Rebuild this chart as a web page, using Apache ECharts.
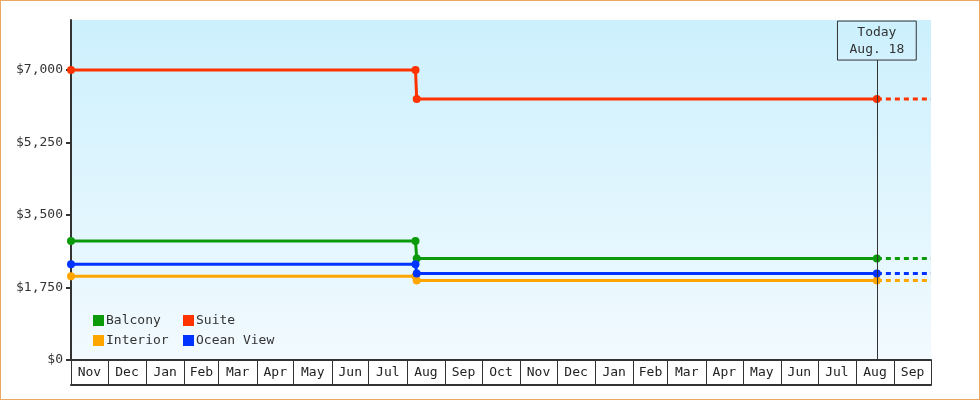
<!DOCTYPE html>
<html><head><meta charset="utf-8">
<script src="https://cdn.jsdelivr.net/npm/echarts@6/dist/echarts.min.js"></script>
<style>
html,body{margin:0;padding:0;background:#fff}
#wrap{position:relative;width:980px;height:400px}
#c{position:absolute;left:0;top:0;width:980px;height:400px}
#frame{position:absolute;left:0;top:0;width:980px;height:400px;box-sizing:border-box;border:1px solid #eaa862;pointer-events:none}
</style></head><body>
<div id="wrap"><div id="c"></div><div id="frame"></div></div>
<script>
// ---- data ----
const monthLabels = ['Nov','Dec','Jan','Feb','Mar','Apr','May','Jun','Jul','Aug','Sep','Oct',
                     'Nov','Dec','Jan','Feb','Mar','Apr','May','Jun','Jul','Aug','Sep'];
const axisStart = '2017-11-01';
const axisEnd = '2019-10-01';
const todayDate = '2019-08-18';
const todayLabel = ['Today', 'Aug. 18'];
const priceDates = ['2017-11-01', '2018-08-08', '2018-08-09', '2019-08-18'];
const balcony   = [2870, 2870, 2450, 2450];
const suite     = [7000, 7000, 6300, 6300];
const interior  = [2020, 2020, 1920, 1920];
const oceanView = [2310, 2310, 2090, 2090];
const yMax = 8207;
const yInterval = 1750;
const todayMarkTop = 7240;

// ---- helpers ----
const ts = s => new Date(s + 'T00:00:00').getTime();
const startD = new Date(axisStart + 'T00:00:00');
const monthStarts = [];
for (let i = 0; i <= monthLabels.length; i++) {
  monthStarts.push(new Date(startD.getFullYear(), startD.getMonth() + i, 1).getTime());
}
const monthMids = monthLabels.map((_, i) => (monthStarts[i] + monthStarts[i + 1]) / 2);

const names = ['Balcony', 'Suite', 'Interior', 'Ocean View'];
const values = [balcony, suite, interior, oceanView];
const colors = ['#0a9a0a', '#ff3300', '#ffa500', '#0033ff'];
const font = 'DejaVu Sans Mono';
const fs = 13;

const series = [];
names.forEach((n, k) => {
  const vals = values[k];
  const s = {
    name: n, type: 'line', z: 3,
    data: priceDates.map((d, i) => [ts(d), vals[i]]),
    symbol: 'circle', symbolSize: 8, showSymbol: true,
    itemStyle: { color: colors[k] },
    lineStyle: { width: 3, color: colors[k] },
    silent: true, animation: false
  };
  if (k === 1) {
    s.markLine = {
      silent: true, symbol: 'none', animation: false,
      lineStyle: { color: '#333', width: 1, type: 'solid' },
      label: {
        show: true, position: 'end', distance: 0,
        formatter: todayLabel.join('\n'),
        color: '#333', fontFamily: font, fontSize: fs, lineHeight: 17,
        borderColor: '#333', borderWidth: 1, padding: [3, 12, 2, 12]
      },
      data: [[{ coord: [ts(todayDate), 0] }, { coord: [ts(todayDate), todayMarkTop] }]]
    };
  }
  series.push(s);
  series.push({
    name: n, type: 'line', z: 2,
    data: [[ts(todayDate), vals[vals.length - 1]], [ts(axisEnd), vals[vals.length - 1]]],
    symbol: 'none',
    lineStyle: { width: 3, color: colors[k], type: [5, 4] },
    itemStyle: { color: colors[k] },
    silent: true, animation: false
  });
});

const legendText = { fontFamily: font, fontSize: fs, color: '#333', padding: [0, 0, 0, -3] };
const chart = echarts.init(document.getElementById('c'));
chart.setOption({
  animation: false,
  grid: {
    left: 71, right: 49, top: 20, bottom: 40, show: true, borderWidth: 0,
    backgroundColor: {
      type: 'linear', x: 0, y: 0, x2: 0, y2: 1,
      colorStops: [{ offset: 0, color: '#ccf0fd' }, { offset: 1, color: '#f2faff' }]
    }
  },
  legend: [
    {
      data: ['Balcony', 'Interior'], orient: 'vertical', left: 93, top: 314,
      itemWidth: 11, itemHeight: 11, itemGap: 7, icon: 'rect', padding: 0,
      selectedMode: false, textStyle: legendText
    },
    {
      data: ['Suite', 'Ocean View'], orient: 'vertical', left: 183, top: 314,
      itemWidth: 11, itemHeight: 11, itemGap: 7, icon: 'rect', padding: 0,
      selectedMode: false, textStyle: legendText
    }
  ],
  xAxis: [
    {
      type: 'value', min: ts(axisStart), max: ts(axisEnd), scale: true,
      axisLine: { show: true, lineStyle: { color: '#333', width: 2 } },
      axisTick: { show: true, length: 25, lineStyle: { color: '#333', width: 1 }, customValues: monthStarts },
      axisLabel: {
        show: true, customValues: monthMids, margin: 6, hideOverlap: false,
        fontFamily: font, fontSize: fs, color: '#222',
        formatter: v => {
          let best = 0, bd = Infinity;
          monthMids.forEach((m, i) => { const d = Math.abs(m - v); if (d < bd) { bd = d; best = i; } });
          return monthLabels[best];
        }
      },
      splitLine: { show: false }
    },
    {
      type: 'value', min: ts(axisStart), max: ts(axisEnd), scale: true, position: 'bottom', offset: 25,
      axisLine: { show: true, lineStyle: { color: '#333', width: 2 } },
      axisTick: { show: false }, axisLabel: { show: false }, splitLine: { show: false }
    }
  ],
  yAxis: {
    type: 'value', min: 0, max: yMax, interval: yInterval,
    axisLine: { show: true, lineStyle: { color: '#333', width: 2 } },
    axisTick: { show: true, length: 5, lineStyle: { color: '#333', width: 2 } },
    axisLabel: {
      fontFamily: font, fontSize: fs, color: '#333', margin: 8,
      showMaxLabel: false,
      formatter: v => '$' + v.toLocaleString('en-US')
    },
    splitLine: { show: false }
  },
  series: series
});
</script>
</body></html>
